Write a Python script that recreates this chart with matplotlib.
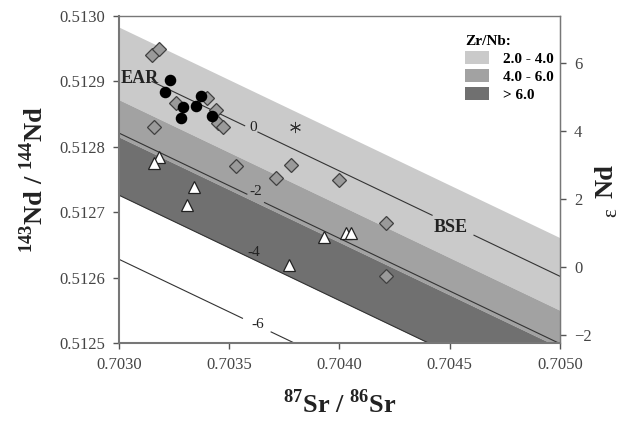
import matplotlib
matplotlib.use('Agg')
import matplotlib.pyplot as plt
from matplotlib.patches import Patch
import numpy as np

plt.rcParams['font.family'] = ['Liberation Serif', 'DejaVu Serif']
plt.rcParams['mathtext.fontset'] = 'custom'
plt.rcParams['mathtext.rm'] = 'Liberation Serif'
plt.rcParams['mathtext.bf'] = 'Liberation Serif:bold'

# --- data ---
diamond_sr = [0.70315, 0.70318, 0.70326, 0.70340, 0.70344, 0.70345, 0.70347,
              0.70316, 0.70353, 0.70371, 0.70378, 0.70400, 0.70421, 0.70421]
diamond_nd = [0.51294, 0.51295, 0.512867, 0.512875, 0.512856, 0.512836, 0.51283,
              0.51283, 0.512771, 0.512753, 0.512772, 0.512749, 0.512683, 0.512602]

circle_sr = [0.70323, 0.70321, 0.70329, 0.70328, 0.70335, 0.70337, 0.70342]
circle_nd = [0.512902, 0.512884, 0.512861, 0.512844, 0.512862, 0.512878, 0.512847]

triangle_sr = [0.70318, 0.70316, 0.70334, 0.70331, 0.70377, 0.70393, 0.70403, 0.70405]
triangle_nd = [0.512784, 0.512775, 0.512739, 0.512711, 0.512619, 0.512662, 0.512668, 0.512668]

star_sr = [0.70380]
star_nd = [0.51283]

# mantle array lines: intercept at Sr = 0.7030, common slope
slope = -0.161
iso_labels = ['0', '-2', '-4', '-6']
iso_nd0 = [0.512924, 0.512821, 0.512726, 0.512628]
# x ranges of the drawn segments (gaps left for labels)
iso_segments = [
    [(0.70315, 0.70357), (0.70363, 0.70442), (0.70461, 0.7050)],
    [(0.7030, 0.70358), (0.70366, 0.7050)],
    [(0.7030, 0.7050)],
    [(0.7030, 0.70356), (0.70369, 0.7050)],
]
iso_label_pos = [(0.70361, 0.512829), (0.70362, 0.512731), (0.70361, 0.512638), (0.70363, 0.512528)]

# Zr/Nb bands (upper / lower intercept at Sr = 0.7030)
band_labels = ['2.0 - 4.0', '4.0 - 6.0', '> 6.0']
band_top = [0.512983, 0.512872, 0.512815]
band_bottom = [0.512872, 0.512815, 0.512726]
band_colors = ['#cacaca', '#a2a2a2', '#707070']

eps_ticks = [-2, 0, 2, 4, 6]


def nd_line(x, nd0):
    return nd0 + slope * (np.asarray(x) - 0.7030)


def nd_to_eps(nd):
    return (nd - 0.512616) / 0.000052


def eps_to_nd(e):
    return e * 0.000052 + 0.512616


fig = plt.figure(figsize=(6.22, 4.25), dpi=100)
ax = fig.add_axes([0.1913, 0.1929, 0.709, 0.7695])

xs = np.linspace(0.7030, 0.7050, 50)
for top, bot, col in zip(band_top, band_bottom, band_colors):
    ax.fill_between(xs, nd_line(xs, bot), nd_line(xs, top), color=col, lw=0, zorder=1)

for nd0, segs, lab, pos in zip(iso_nd0, iso_segments, iso_labels, iso_label_pos):
    for x0, x1 in segs:
        sx = np.array([x0, x1])
        ax.plot(sx, nd_line(sx, nd0), color='#333333', lw=0.8, zorder=2)
    ax.text(pos[0], pos[1], lab, ha='center', va='center', fontsize=11, color='#222222', zorder=3)

ax.text(0.703095, 0.512905, 'EAR', ha='center', va='center', fontsize=13,
        fontweight='bold', color='#222222', zorder=3)
ax.text(0.704506, 0.512677, 'BSE', ha='center', va='center', fontsize=13,
        fontweight='bold', color='#222222', zorder=3)

ax.plot(diamond_sr, diamond_nd, 'D', ms=7, mfc='#9a9a9a', mec='#404040', mew=0.9, zorder=4)
ax.plot(circle_sr, circle_nd, 'o', ms=7.3, mfc='black', mec='black', zorder=5)
ax.plot(triangle_sr, triangle_nd, '^', ms=8, mfc='white', mec='#222222', mew=0.9, zorder=5)
ax.plot(star_sr, star_nd, marker=(6, 2, 0), ls='none', ms=8, mec='#333333', mew=0.7, zorder=5)

ax.set_xlim(0.7030, 0.7050)
ax.set_ylim(0.5125, 0.5130)
ax.set_xticks([0.7030, 0.7035, 0.7040, 0.7045, 0.7050])
ax.set_yticks([0.5125, 0.5126, 0.5127, 0.5128, 0.5129, 0.5130])
ax.xaxis.set_major_formatter(matplotlib.ticker.FormatStrFormatter('%.4f'))
ax.yaxis.set_major_formatter(matplotlib.ticker.FormatStrFormatter('%.4f'))
ax.tick_params(direction='out', length=4, width=1, color='#555555',
               labelsize=12, labelcolor='#444444', pad=6)
for sp in ax.spines.values():
    sp.set_color('#777777')
    sp.set_linewidth(1.0)
ax.spines['left'].set_linewidth(1.5)
ax.spines['bottom'].set_linewidth(1.5)

sec = ax.secondary_yaxis('right', functions=(nd_to_eps, eps_to_nd))
sec.set_yticks(eps_ticks)
sec.tick_params(direction='out', length=4, width=1, color='#555555',
                labelsize=12, labelcolor='#444444', pad=6)
sec.spines['right'].set_color('#777777')

ax.set_xlabel(r'$^{\mathbf{87}}$Sr / $^{\mathbf{86}}$Sr', fontsize=19, fontweight='bold',
              color='#222222', labelpad=12)
ax.set_ylabel(r'$^{\mathbf{143}}$Nd / $^{\mathbf{144}}$Nd', fontsize=19, fontweight='bold',
              color='#222222', labelpad=8)
fig.text(0.975, 0.575, 'Nd', rotation=90, ha='center', va='center', fontsize=19,
         fontweight='bold', color='#222222')
fig.text(0.983, 0.5, 'ε', rotation=90, ha='center', va='center', fontsize=15, color='#222222')

handles = [Patch(facecolor=c, edgecolor='none') for c in band_colors]
leg = ax.legend(handles, band_labels, title='Zr/Nb:', loc='upper left',
                bbox_to_anchor=(0.768, 0.965), frameon=False, borderpad=0,
                handlelength=1.55, handleheight=0.95, handletextpad=0.9,
                labelspacing=0.2, alignment='left',
                prop={'weight': 'bold', 'size': 11},
                title_fontproperties={'weight': 'bold', 'size': 11})

fig.savefig('out.png', dpi=100, facecolor='white')
